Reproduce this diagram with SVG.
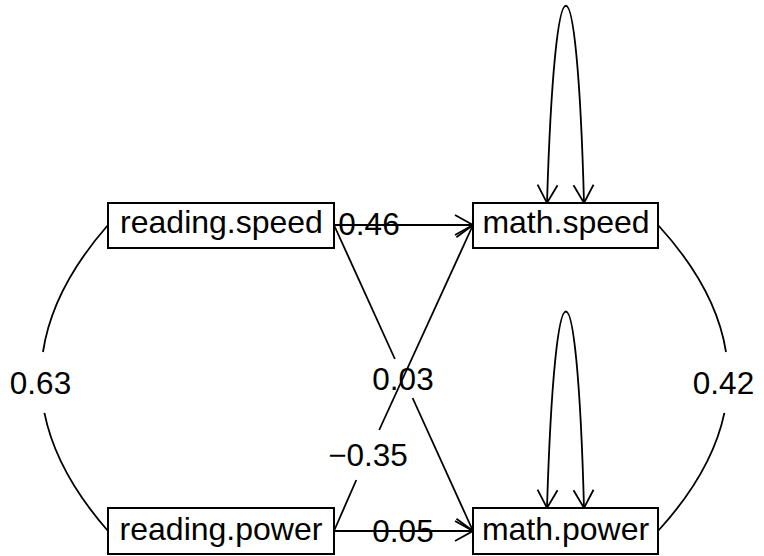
<svg xmlns="http://www.w3.org/2000/svg" width="764" height="556" viewBox="0 0 764 556">
<style>
  .box { fill: #fff; stroke: #000; stroke-width: 2; }
  .lbl { font-family: "Liberation Sans", Arial, sans-serif; font-size: 31.5px; fill: #000; text-anchor: middle; }
  .nlbl { font-family: "Liberation Sans", Arial, sans-serif; font-size: 32px; fill: #000; text-anchor: middle; }
  .edge { fill: none; stroke: #000; stroke-width: 1.8; }
  .arr { marker-end: url(#arrow); }
  .loop { marker-start: url(#arrow); marker-end: url(#arrow); }
</style>
<defs>
  <marker id="arrow" markerUnits="userSpaceOnUse" viewBox="-21 -12 23 24" markerWidth="23" markerHeight="24" refX="0" refY="0" orient="auto-start-reverse" overflow="visible">
    <path d="M-18,-10 L0,0 L-18,10" fill="none" stroke="#000" stroke-width="1.8"/>
  </marker>
</defs>
<g id="connectors">
  <!-- covariance reading.speed <-> reading.power -->
  <path class="edge" d="M108,225 Q52.4,288.5 43,352 M44.4,412.9 Q56.3,471.9 108,531"/>
  <!-- covariance math.speed <-> math.power -->
  <path class="edge" d="M658,225 Q716.1,288.5 726,352 M724.4,412.9 Q712,471.9 658,531"/>
  <!-- reading.speed -> math.speed -->
  <path class="edge arr" d="M334,225 L473,225"/>
  <!-- reading.power -> math.power -->
  <path class="edge arr" d="M334,531 L473,531"/>
  <!-- reading.speed -> math.power -->
  <path class="edge" d="M334,225 L394.9,359"/>
  <path class="edge arr" d="M412.6,398 L473,531"/>
  <!-- reading.power -> math.speed -->
  <path class="edge" d="M334,531 L356.3,480"/>
  <path class="edge arr" d="M379.2,430 L473,225"/>
  <!-- residual loops -->
  <path class="edge loop" d="M547,203 C555,-60 577,-60 584,203"/>
  <path class="edge loop" d="M547,508 C555,246 577,246 584,508"/>
  <!-- edge labels -->
  <text class="lbl" x="40.5" y="394">0.63</text>
  <text class="lbl" x="723.5" y="394">0.42</text>
  <text class="lbl" x="369" y="235">0.46</text>
  <text class="lbl" x="403" y="542">0.05</text>
  <text class="lbl" x="403" y="390">0.03</text>
  <text class="lbl" x="368" y="466">−0.35</text>
</g>
<g id="reading.speed">
  <rect class="box" x="108" y="203" width="226" height="45"/>
  <text class="nlbl" x="221.5" y="233">reading.speed</text>
</g>
<g id="reading.power">
  <rect class="box" x="108" y="508" width="226" height="46"/>
  <text class="nlbl" x="221" y="540">reading.power</text>
</g>
<g id="math.speed">
  <rect class="box" x="473" y="203" width="185" height="45"/>
  <text class="nlbl" x="566" y="233">math.speed</text>
</g>
<g id="math.power">
  <rect class="box" x="473" y="508" width="185" height="46"/>
  <text class="nlbl" x="565.5" y="540">math.power</text>
</g>
</svg>
